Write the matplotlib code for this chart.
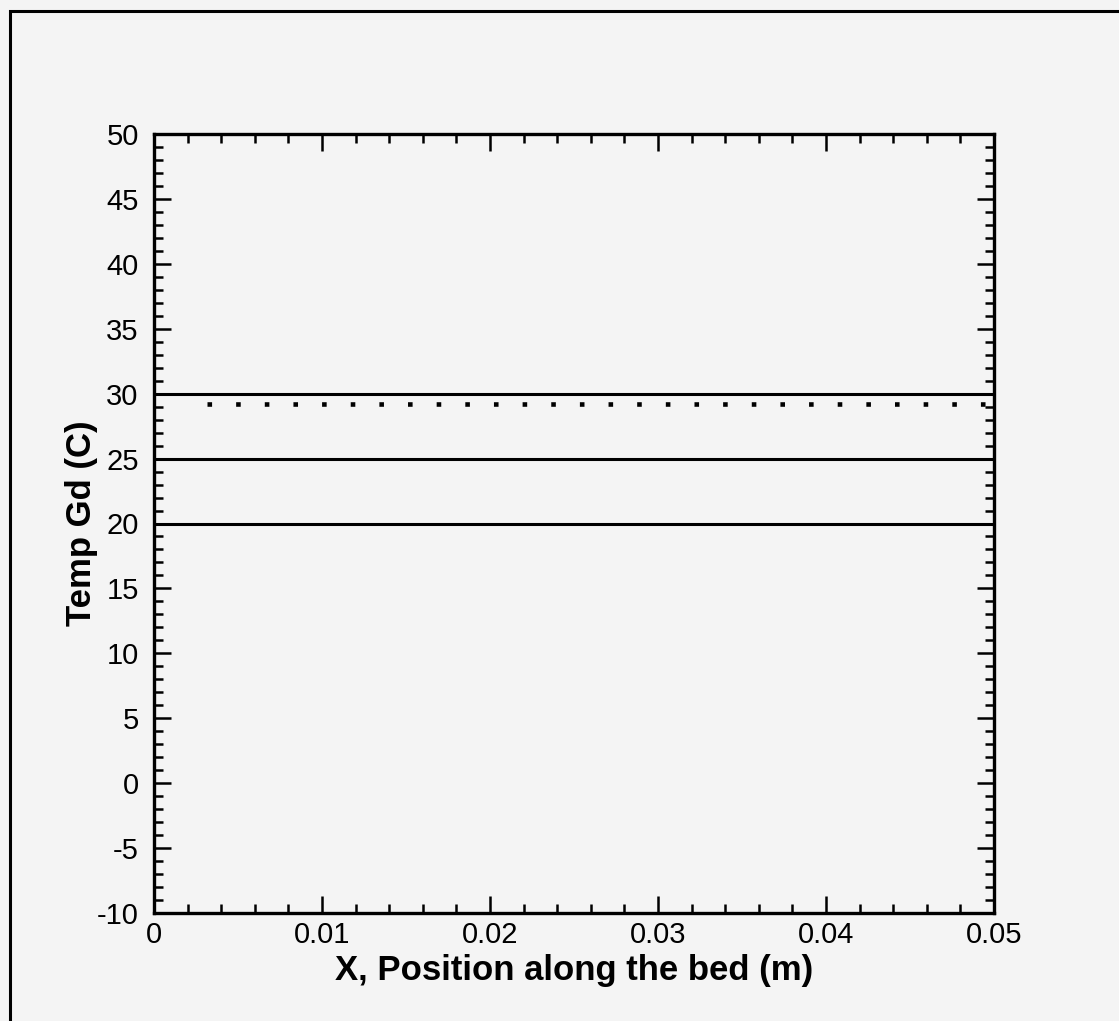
import numpy as np
import matplotlib.pyplot as plt
from matplotlib.patches import Rectangle
from matplotlib.ticker import MultipleLocator

# solid temperature profiles along the bed
x_solid = [0.0, 0.05]
t_solid = {"T30": [30.0, 30.0], "T25": [25.0, 25.0], "T20": [20.0, 20.0]}

# dotted profile
x_dot = [0.00315, 0.05]
t_dot = [29.2, 29.2]

x_ticks = [0, 0.01, 0.02, 0.03, 0.04, 0.05]
x_labels = ["0", "0.01", "0.02", "0.03", "0.04", "0.05"]
y_ticks = list(range(-10, 55, 5))

plt.rcParams['font.family'] = ['Liberation Sans', 'DejaVu Sans']
plt.rcParams['axes.unicode_minus'] = False

bg = '#f4f4f4'
fig = plt.figure(figsize=(11.19, 10.21), dpi=100, facecolor=bg)

# outer frame (only left/top edges are visible in the picture)
fig.patches.append(Rectangle((9.5 / 1119, -0.1), 1.2, (1021 - 11.5) / 1021 + 0.1,
                             transform=fig.transFigure, fill=False,
                             edgecolor='black', linewidth=2.2, zorder=0))

ax = fig.add_axes([154 / 1119, 108 / 1021, 840 / 1119, 779 / 1021])
ax.set_facecolor(bg)

for key, vals in t_solid.items():
    ax.plot(x_solid, vals, color='black', lw=2.2, solid_capstyle='butt')

ax.plot(x_dot, t_dot, color='black', lw=3.3, linestyle=(0, (1, 5.25)),
        dash_capstyle='butt')

ax.set_xlim(0, 0.05)
ax.set_ylim(-10, 50)
ax.set_xticks(x_ticks)
ax.set_xticklabels(x_labels)
ax.set_yticks(y_ticks)
ax.xaxis.set_minor_locator(MultipleLocator(0.002))
ax.yaxis.set_minor_locator(MultipleLocator(1))

ax.tick_params(which='both', direction='in', top=True, right=True,
               width=1.8, colors='black')
ax.tick_params(axis='x', which='major', length=12.5, labelsize=21, pad=6)
ax.tick_params(axis='y', which='major', length=12.5, labelsize=21, pad=11)
ax.tick_params(which='minor', length=6.5)

for s in ax.spines.values():
    s.set_linewidth(2.4)

ax.set_xlabel("X, Position along the bed (m)", fontsize=25, fontweight='bold',
              labelpad=3)
ax.set_ylabel("Temp Gd (C)", fontsize=25, fontweight='bold', labelpad=-1)

fig.savefig("out.png", dpi=100, facecolor=bg)
